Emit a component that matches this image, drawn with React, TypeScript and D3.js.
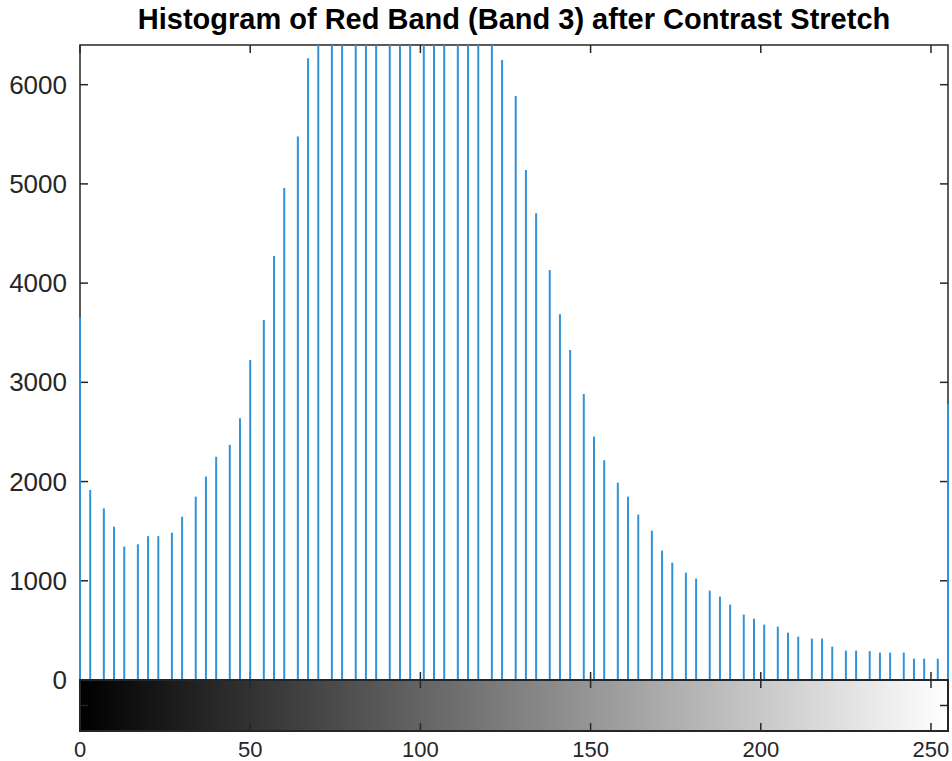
import React from "react";
import * as d3 from "d3";

const TITLE = "Histogram of Red Band (Band 3) after Contrast Stretch";

// Intensity levels present after contrast stretch (stem positions)
const levels = [
  0, 3, 7, 10, 13, 17, 20, 23, 27, 30, 34, 37, 40, 44, 47, 50, 54, 57, 60, 64,
  67, 70, 74, 77, 81, 84, 87, 91, 94, 97, 101, 104, 107, 111, 114, 117, 121, 124,
  128, 131, 134, 138, 141, 144, 148, 151, 154, 158, 161, 164, 168, 171, 174, 178,
  181, 185, 188, 191, 195, 198, 201, 205, 208, 211, 215, 218, 221, 225, 228, 232,
  235, 238, 242, 245, 248, 252, 255,
];

// Pixel counts per level (values above 6400 are clipped in the reference; estimated)
const counts = [
  3650, 1915, 1730, 1545, 1345, 1368, 1450, 1450, 1485, 1645, 1848, 2050, 2250,
  2370, 2638, 3226, 3629, 4274, 4960, 5477, 6267,
  6900, 7400, 7900, 8300, 8700, 9000, 9200, 9300, 9300, 9200, 9000, 8700, 8300,
  7800, 7300, 6800,
  6250, 5887, 5141, 4704, 4133, 3686, 3327, 2883, 2453, 2215, 1989, 1848, 1667,
  1505, 1304, 1183, 1082, 1022, 901, 840, 760, 659, 618, 558, 538, 477, 437, 417,
  417, 336, 296, 296, 290, 276, 276, 276, 215, 215, 215, 2782,
];

const xTicks = [0, 50, 100, 150, 200, 250];
const yTicks = [0, 1000, 2000, 3000, 4000, 5000, 6000];
const xDomain = [0, 255];
const yDomain = [0, 6400];

export default function App() {
  const W = 952;
  const H = 761;
  const left = 80;
  const right = 948;
  const top = 45;
  const bottom = 680;
  const cbBottom = 731;
  const axisColor = "#262626";
  const tick = 8;

  const x = d3.scaleLinear().domain(xDomain).range([left, right]);
  const y = d3.scaleLinear().domain(yDomain).range([bottom, top]);

  const font = "'Liberation Sans', Arial, Helvetica, sans-serif";
  const cbMid = (bottom + cbBottom) / 2;

  return (
    <svg
      width={W}
      height={H}
      style={{ position: "absolute", left: 0, top: 0, background: "#fff" }}
    >
      <defs>
        <clipPath id="plotClip">
          <rect x={left - 2} y={top} width={right - left + 4} height={bottom - top} />
        </clipPath>
        <linearGradient id="grayGrad" x1="0" x2="1" y1="0" y2="0">
          <stop offset="0%" stopColor="#000" />
          <stop offset="100%" stopColor="#fff" />
        </linearGradient>
      </defs>

      {/* Title */}
      <text
        x={(left + right) / 2}
        y={29}
        textAnchor="middle"
        fontFamily={font}
        fontWeight="bold"
        fontSize={29}
        fill="#000"
      >
        {TITLE}
      </text>

      {/* Main axes box */}
      <rect
        x={left}
        y={top}
        width={right - left}
        height={bottom - top}
        fill="none"
        stroke={axisColor}
        strokeWidth={1.5}
      />
      {yTicks.map((t) => (
        <g key={"y" + t}>
          <line x1={left} x2={left + tick} y1={y(t)} y2={y(t)} stroke={axisColor} strokeWidth={1.5} />
          <line x1={right} x2={right - tick} y1={y(t)} y2={y(t)} stroke={axisColor} strokeWidth={1.5} />
          <text
            x={left - 13}
            y={y(t)}
            dy="0.35em"
            textAnchor="end"
            fontFamily={font}
            fontSize={26}
            fill={axisColor}
          >
            {t}
          </text>
        </g>
      ))}
      {xTicks.map((t) => (
        <g key={"x" + t}>
          <line x1={x(t)} x2={x(t)} y1={bottom} y2={bottom - tick} stroke={axisColor} strokeWidth={1.5} />
          <line x1={x(t)} x2={x(t)} y1={top} y2={top + tick} stroke={axisColor} strokeWidth={1.5} />
        </g>
      ))}

      {/* Stems (drawn above the axes box, as in the reference) */}
      <g clipPath="url(#plotClip)">
        {levels.map((lv, i) => (
          <line
            key={i}
            x1={x(lv)}
            x2={x(lv)}
            y1={y(0)}
            y2={y(counts[i])}
            stroke="#3392d7"
            strokeWidth={2}
          />
        ))}
      </g>

      {/* Colorbar */}
      <rect x={left} y={bottom} width={right - left} height={cbBottom - bottom} fill="url(#grayGrad)" />
      <rect
        x={left}
        y={bottom}
        width={right - left}
        height={cbBottom - bottom}
        fill="none"
        stroke={axisColor}
        strokeWidth={2}
      />
      <line x1={left} x2={left + tick} y1={cbMid} y2={cbMid} stroke={axisColor} strokeWidth={1.5} />
      <line x1={right} x2={right - tick} y1={cbMid} y2={cbMid} stroke={axisColor} strokeWidth={1.5} />
      {xTicks.map((t) => (
        <g key={"cb" + t}>
          <line x1={x(t)} x2={x(t)} y1={bottom} y2={bottom + tick} stroke={axisColor} strokeWidth={1.5} />
          <line x1={x(t)} x2={x(t)} y1={cbBottom} y2={cbBottom - tick} stroke={axisColor} strokeWidth={1.5} />
          <text
            x={x(t)}
            y={757}
            textAnchor="middle"
            fontFamily={font}
            fontSize={22}
            fill={axisColor}
          >
            {t}
          </text>
        </g>
      ))}
    </svg>
  );
}
